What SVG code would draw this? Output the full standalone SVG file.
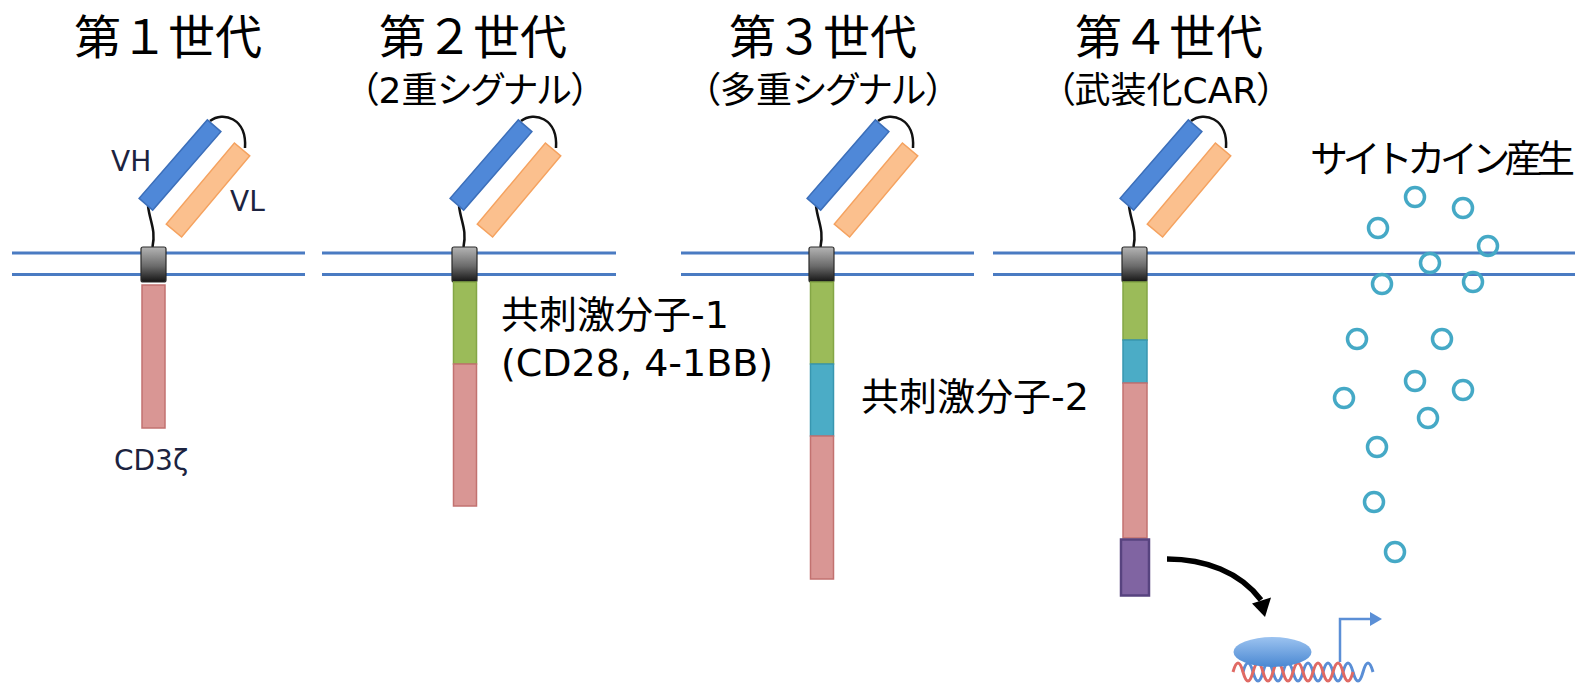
<svg xmlns="http://www.w3.org/2000/svg" width="1589" height="685" viewBox="0 0 1589 685">
  <defs>
    <linearGradient id="tmGrad" x1="0" y1="0" x2="0" y2="1">
      <stop offset="0" stop-color="#b4b4b4"/>
      <stop offset="0.55" stop-color="#6a6a6a"/>
      <stop offset="1" stop-color="#141414"/>
    </linearGradient>
    <linearGradient id="tfGrad" x1="0" y1="0" x2="0" y2="1">
      <stop offset="0" stop-color="#9cc3f0"/>
      <stop offset="1" stop-color="#4a88d2"/>
    </linearGradient>
    <!-- single-chain variable fragment (scFv) + hinge -->
    <g id="scfv">
      <path d="M210 121 C223 111 247 118 245 148" fill="none" stroke="#111" stroke-width="2.5"/>
      <path d="M148 206 C150 222 156 230 152.5 247" fill="none" stroke="#111" stroke-width="2.5"/>
      <rect x="-53" y="-10" width="106" height="20" transform="translate(208 190) rotate(-50)" fill="#fbc08e" stroke="#f5a25f" stroke-width="1.5"/>
      <rect x="-52" y="-9" width="104" height="18" transform="translate(180 165) rotate(-49)" fill="#4f88d8" stroke="#3c6fba" stroke-width="1.5"/>
    </g>
  </defs>
  <style>
    .mem { stroke: #4a7bc2; stroke-width: 3; fill: none; }
    .tm { fill: url(#tmGrad); stroke: #2a2a2a; stroke-width: 1.2; }
    .cd3z { fill: #d99694; stroke: #c27270; stroke-width: 1.5; }
    .cs1 { fill: #9bbb59; stroke: #84a646; stroke-width: 1.5; }
    .cs2 { fill: #4bacc6; stroke: #3896b0; stroke-width: 1.5; }
    .arm { fill: #8064a2; stroke: #57437f; stroke-width: 2.5; }
    .ck { fill: none; stroke: #45a9c6; stroke-width: 3.5; }
    .title { font-family: "Noto Sans CJK JP", sans-serif; font-size: 47px; fill: #000; text-anchor: middle; }
    .sub { font-family: "DejaVu Sans", "Noto Sans CJK JP", sans-serif; font-size: 36px; fill: #000; text-anchor: middle; font-feature-settings: "palt"; }
    .lbl { font-family: "DejaVu Sans", "Noto Sans CJK JP", sans-serif; font-size: 38px; fill: #000; }
    .dom { font-family: "DejaVu Sans", sans-serif; font-size: 28px; fill: #1c2340; }
  </style>

  <rect width="1589" height="685" fill="#fff"/>

  <!-- cell membrane (lipid bilayer) -->
  <g id="membrane">
    <path class="mem" d="M12 253 H305 M12 274.5 H305"/>
    <path class="mem" d="M322 253 H616 M322 274.5 H616"/>
    <path class="mem" d="M681 253 H974 M681 274.5 H974"/>
    <path class="mem" d="M993 253 H1575 M993 274.5 H1575"/>
  </g>

  <!-- 1st generation -->
  <g id="gen1">
    <text class="title" x="168" y="54">第１世代</text>
    <use href="#scfv"/>
    <rect class="tm" x="141" y="247" width="25" height="35" rx="2"/>
    <rect class="cd3z" x="142" y="285" width="23" height="143"/>
    <text class="dom" x="111" y="171">VH</text>
    <text class="dom" x="230" y="211">VL</text>
    <text class="dom" x="114" y="470" font-size="28">CD3ζ</text>
  </g>

  <!-- 2nd generation -->
  <g id="gen2">
    <text class="title" x="473" y="54">第２世代</text>
    <text class="sub" x="475" y="103">（2重シグナル）</text>
    <use href="#scfv" transform="translate(311 0)"/>
    <rect class="tm" x="452" y="247" width="25" height="35" rx="2"/>
    <rect class="cs1" x="453.5" y="282" width="23" height="82"/>
    <rect class="cd3z" x="453.5" y="364" width="23" height="142"/>
    <text class="lbl" x="501" y="328">共刺激分子-1</text>
    <text class="lbl" x="501" y="376">(CD28, 4-1BB)</text>
  </g>

  <!-- 3rd generation -->
  <g id="gen3">
    <text class="title" x="823" y="54">第３世代</text>
    <text class="sub" x="823" y="103">（多重シグナル）</text>
    <use href="#scfv" transform="translate(668 0)"/>
    <rect class="tm" x="809" y="247" width="25" height="35" rx="2"/>
    <rect class="cs1" x="810.5" y="282" width="23" height="82"/>
    <rect class="cs2" x="810.5" y="364" width="23" height="72"/>
    <rect class="cd3z" x="810.5" y="436" width="23" height="143"/>
    <text class="lbl" x="861" y="410">共刺激分子-2</text>
  </g>

  <!-- 4th generation (armored CAR) -->
  <g id="gen4">
    <text class="title" x="1169" y="54">第４世代</text>
    <text class="sub" x="1166" y="103">（武装化CAR）</text>
    <use href="#scfv" transform="translate(981 0)"/>
    <rect class="tm" x="1122" y="247" width="25" height="35" rx="2"/>
    <rect class="cs1" x="1123" y="282" width="24" height="58"/>
    <rect class="cs2" x="1123" y="340" width="24" height="43"/>
    <rect class="cd3z" x="1123" y="383" width="24" height="155"/>
    <rect class="arm" x="1121" y="539.5" width="28" height="56"/>
  </g>

  <!-- secreted cytokines -->
  <g id="cytokines">
    <text class="lbl" x="1310" y="172" font-size="35" textLength="265" lengthAdjust="spacing">サイトカイン産生</text>
    <circle class="ck" cx="1415" cy="197" r="9.5"/>
    <circle class="ck" cx="1378" cy="228" r="9.5"/>
    <circle class="ck" cx="1463" cy="208" r="9.5"/>
    <circle class="ck" cx="1488" cy="246" r="9.5"/>
    <circle class="ck" cx="1430" cy="263" r="9.5"/>
    <circle class="ck" cx="1382" cy="284" r="9.5"/>
    <circle class="ck" cx="1473" cy="282" r="9.5"/>
    <circle class="ck" cx="1357" cy="339" r="9.5"/>
    <circle class="ck" cx="1442" cy="339" r="9.5"/>
    <circle class="ck" cx="1415" cy="381" r="9.5"/>
    <circle class="ck" cx="1463" cy="390" r="9.5"/>
    <circle class="ck" cx="1344" cy="398" r="9.5"/>
    <circle class="ck" cx="1428" cy="418" r="9.5"/>
    <circle class="ck" cx="1377" cy="447" r="9.5"/>
    <circle class="ck" cx="1374" cy="502" r="9.5"/>
    <circle class="ck" cx="1395" cy="552" r="9.5"/>
  </g>

  <!-- transcription factor bound to DNA (double strand) -->
  <g id="transcription">
    <path d="M1243 672 q5 -18 10 0 t10 0 t10 0 t10 0 t10 0 t10 0 t10 0 t10 0 t10 0 t10 0 t10 0 t10 0 t10 0" fill="none" stroke="#5a8ed6" stroke-width="3"/>
    <path d="M1233 672 q5 -18 10 0 t10 0 t10 0 t10 0 t10 0 t10 0 t10 0 t10 0 t10 0 t10 0 t10 0 t10 0" fill="none" stroke="#e06a64" stroke-width="3"/>
    <path d="M1340 662 V619 H1372" fill="none" stroke="#5b8fd6" stroke-width="2.5"/>
    <polygon points="1370,612 1382,619 1370,626" fill="#5b8fd6"/>
    <ellipse cx="1272.5" cy="652" rx="39" ry="15" fill="url(#tfGrad)"/>
  </g>

  <!-- signalling arrow from the armoring domain to gene expression -->
  <g id="connectors">
    <path d="M1167 559 C1205 559 1240 572 1261 600" fill="none" stroke="#000" stroke-width="5.5"/>
    <polygon points="1252,603.5 1271,597.5 1265,617" fill="#000"/>
  </g>
</svg>
